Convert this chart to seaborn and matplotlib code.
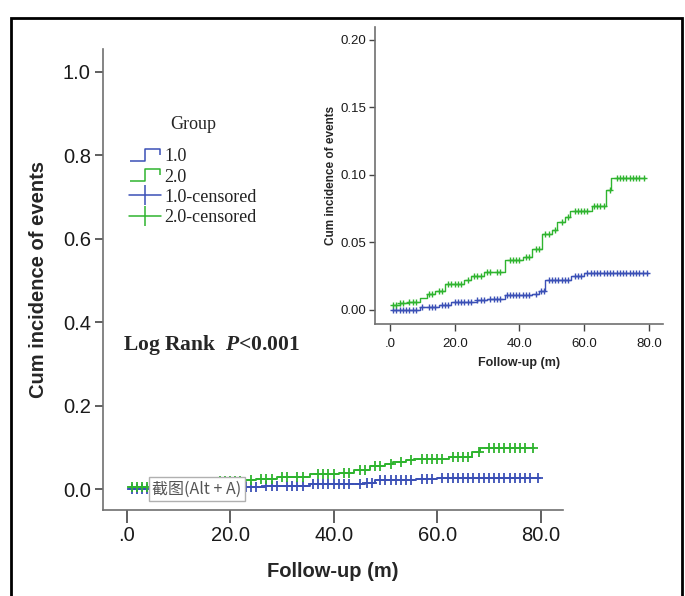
import matplotlib
matplotlib.use("Agg")
import matplotlib.pyplot as plt
from matplotlib.lines import Line2D
from matplotlib.path import Path
from matplotlib.patches import Rectangle
import numpy as np
import pandas as pd
import seaborn as sns

# step data (time in months, cumulative incidence)
blue_times = [0.5, 9.3, 15, 19, 26.8, 30, 35.5, 44, 46, 47.9, 56, 60, 79.8]
blue_vals = [0.0, 0.0025, 0.004, 0.006, 0.007, 0.008, 0.011, 0.012, 0.014, 0.022, 0.025, 0.027, 0.027]

green_times = [0.5, 3, 5.7, 9.3, 11.3, 14, 17, 23, 25, 29, 35.5, 41, 44, 47, 50, 51.5,
               54, 55.6, 62.3, 66.7, 68.2, 78.8]
green_vals = [0.004, 0.0055, 0.006, 0.009, 0.012, 0.014, 0.019, 0.022, 0.025, 0.028, 0.037,
              0.039, 0.045, 0.056, 0.059, 0.065, 0.069, 0.073, 0.077, 0.089, 0.098, 0.098]

# censoring times
blue_cens = [1, 2, 3, 4, 5, 6, 7, 8, 10, 12, 13, 14, 16, 17, 18, 20, 21, 22, 23, 24, 25, 27,
             28, 29, 31, 32, 33, 34, 36, 37, 38, 39, 40, 41, 42, 43, 45, 46.5, 47.5, 49, 50, 51,
             52, 53, 54, 55, 57, 58, 59, 61, 62, 63, 64, 65, 66, 67, 68, 69, 70, 71, 72, 73,
             74, 75, 76, 77, 78, 79.5]
green_cens = [1, 2, 3, 4, 6, 7, 8, 12, 13, 15, 16, 18, 19, 20, 21, 22, 24, 26, 27, 28, 30,
              31, 33, 34, 37, 38, 39, 40, 42, 43, 45, 46, 48, 49, 51, 53, 55, 57, 58, 59, 60,
              61, 63, 64, 65, 66, 68, 70, 71, 72, 73, 74, 75, 76, 77, 78.5]

groups = ["1.0", "2.0"]
colors = {"1.0": "#3b50b6", "2.0": "#2fb42f"}

steps = pd.concat([
    pd.DataFrame({"time": blue_times, "cum": blue_vals, "group": "1.0"}),
    pd.DataFrame({"time": green_times, "cum": green_vals, "group": "2.0"}),
])


def step_value(times, vals, t):
    idx = np.searchsorted(times, t, side="right") - 1
    return np.asarray(vals)[np.clip(idx, 0, None)]


cens = pd.concat([
    pd.DataFrame({"time": blue_cens, "cum": step_value(blue_times, blue_vals, blue_cens), "group": "1.0"}),
    pd.DataFrame({"time": green_cens, "cum": step_value(green_times, green_vals, green_cens), "group": "2.0"}),
])

sns.set_style("white")
plt.rcParams["font.family"] = ["Liberation Sans", "DejaVu Sans"]
plt.rcParams["mathtext.fontset"] = "custom"
plt.rcParams["mathtext.it"] = "Liberation Serif:italic:bold"

fig = plt.figure(figsize=(6.85, 5.96), dpi=100)

spine_col = "#707070"


def draw(ax, lw, ms, mlw):
    sns.lineplot(data=steps, x="time", y="cum", hue="group", palette=colors,
                 drawstyle="steps-post", estimator=None, sort=True, legend=False,
                 linewidth=lw, ax=ax)
    for g in groups:
        sub = cens[cens["group"] == g]
        ax.plot(sub["time"], sub["cum"], linestyle="none", marker="+",
                markersize=ms, markeredgewidth=mlw, color=colors[g])
    for s in ["top", "right"]:
        ax.spines[s].set_visible(False)
    for s in ["left", "bottom"]:
        ax.spines[s].set_color(spine_col)
        ax.spines[s].set_linewidth(1.2)


# main axes
ax = fig.add_axes([0.1508, 0.1451, 0.671, 0.7727])
draw(ax, 1.4, 7.5, 1.3)
ax.set_xlim(-4.5, 84.3)
ax.set_ylim(-0.049, 1.055)
ax.set_xticks([0, 20, 40, 60, 80])
ax.set_xticklabels([".0", "20.0", "40.0", "60.0", "80.0"])
ax.set_yticks([0, 0.2, 0.4, 0.6, 0.8, 1.0])
ax.set_yticklabels(["0.0", "0.2", "0.4", "0.6", "0.8", "1.0"])
ax.tick_params(axis="both", direction="out", length=6, width=1.2, color="#444444",
               labelsize=14.5, labelcolor="#1a1a1a", left=True, bottom=True, pad=3)
ax.tick_params(axis="x", length=9)
ax.set_xlabel("Follow-up (m)", fontsize=14.5, fontweight="bold", labelpad=12)
ax.set_ylabel("Cum incidence of events", fontsize=14.5, fontweight="bold", labelpad=11)

ax.text(0.042, 0.357, r"Log Rank  $P$<0.001", transform=ax.transAxes,
        fontsize=15.5, fontweight="bold", family="Liberation Serif", va="center", ha="left")

# legend
step_icon = Path([(-1, -0.4), (0, -0.4), (0, 0.4), (1, 0.4), (1, 0.0)])
handles = [
    Line2D([0], [0], linestyle="none", marker=step_icon, markersize=22, markerfacecolor="none",
           markeredgecolor=colors["1.0"], markeredgewidth=1.1),
    Line2D([0], [0], linestyle="none", marker=step_icon, markersize=22, markerfacecolor="none",
           markeredgecolor=colors["2.0"], markeredgewidth=1.1),
    Line2D([0], [0], color=colors["1.0"], lw=1.1, marker="|", markersize=14, markeredgewidth=1.1),
    Line2D([0], [0], color=colors["2.0"], lw=1.1, marker="|", markersize=14, markeredgewidth=1.1),
]
labels = ["1.0", "2.0", "1.0-censored", "2.0-censored"]
leg = fig.legend(handles, labels, title="Group", loc="upper left",
                 bbox_to_anchor=(129 / 685, 1 - 116 / 596), frameon=False,
                 prop={"family": "Liberation Serif", "size": 13},
                 title_fontproperties={"family": "Liberation Serif", "size": 13},
                 handlelength=1.75, handletextpad=0.2, labelspacing=0.18,
                 borderpad=0, borderaxespad=0, numpoints=1)
leg._legend_box.sep = 11
for t in leg.get_texts():
    t.set_color("#222222")

# screenshot tooltip
fig.text(197 / 685, 1 - 489 / 596, "截图(Alt + A)", ha="center", va="center", fontsize=11.5,
         color="#555555", family=["Noto Sans CJK SC", "DejaVu Sans"], zorder=10,
         bbox=dict(boxstyle="square,pad=0.2", facecolor="white", edgecolor="#b0b0b0", lw=1))

# inset axes
ins = fig.add_axes([0.5474, 0.4564, 0.4204, 0.4983])
draw(ins, 1.0, 5, 1.0)
ins.set_xlim(-4.63, 84.3)
ins.set_ylim(-0.0104, 0.2096)
ins.set_xticks([0, 20, 40, 60, 80])
ins.set_xticklabels([".0", "20.0", "40.0", "60.0", "80.0"])
ins.set_yticks([0, 0.05, 0.10, 0.15, 0.20])
ins.set_yticklabels(["0.00", "0.05", "0.10", "0.15", "0.20"])
ins.tick_params(axis="both", direction="out", length=4, width=1.0, color="#444444",
                labelsize=9.5, labelcolor="#1a1a1a", left=True, bottom=True, pad=2)
ins.tick_params(axis="x", length=5, pad=5)
ins.set_xlabel("Follow-up (m)", fontsize=9, fontweight="bold", labelpad=5)
ins.set_ylabel("Cum incidence of events", fontsize=8.5, fontweight="bold", labelpad=3)
ins.patch.set_alpha(0)

# outer frame
fig.patches.append(Rectangle((11 / 685, -0.05), 671 / 685, 1.035 - 9 / 596,
                             transform=fig.transFigure, fill=False, edgecolor="black",
                             lw=2, zorder=20))

fig.savefig("out.png", dpi=100)
